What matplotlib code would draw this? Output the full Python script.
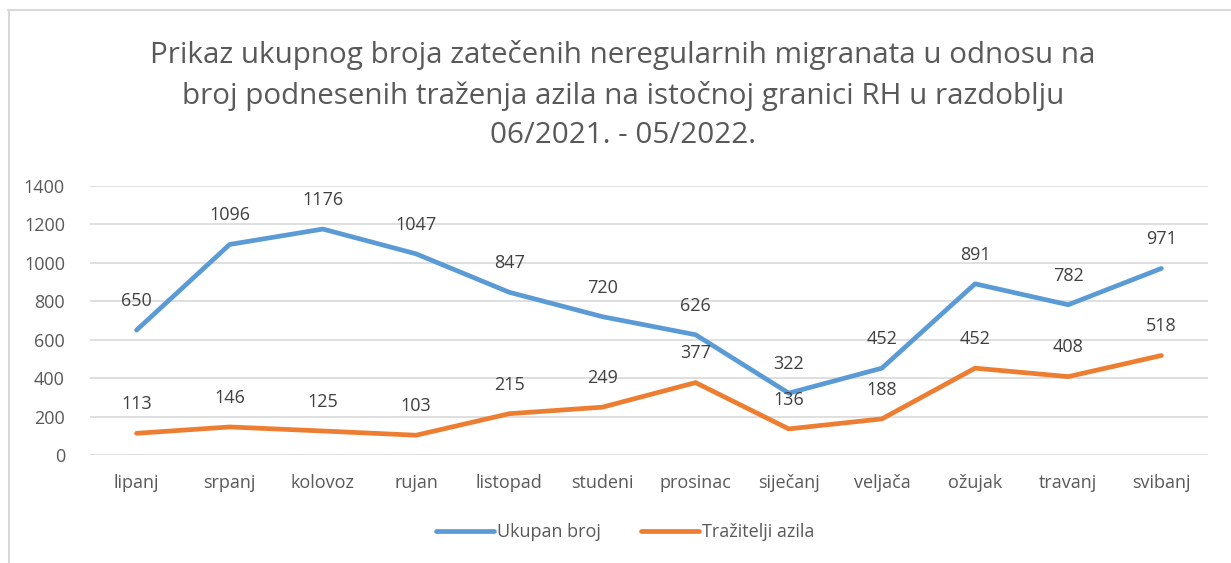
import matplotlib
matplotlib.use('Agg')
from matplotlib import pyplot as plt
from matplotlib.lines import Line2D

plt.rcParams['font.family'] = ['Open Sans', 'DejaVu Sans']

months = ['lipanj', 'srpanj', 'kolovoz', 'rujan', 'listopad', 'studeni', 'prosinac',
          'siječanj', 'veljača', 'ožujak', 'travanj', 'svibanj']
ukupan = [650, 1096, 1176, 1047, 847, 720, 626, 322, 452, 891, 782, 971]
trazitelji = [113, 146, 125, 103, 215, 249, 377, 136, 188, 452, 408, 518]
yticks = [0, 200, 400, 600, 800, 1000, 1200, 1400]

title = ('Prikaz ukupnog broja zatečenih neregularnih migranata u odnosu na\n'
         'broj podnesenih traženja azila na istočnoj granici RH u razdoblju\n'
         '06/2021. - 05/2022.')

text_col = '#595959'
blue = '#5B9BD5'
orange = '#ED7D31'

fig = plt.figure(figsize=(12.31, 5.63), dpi=100)
ax = fig.add_axes([0.0731, 0.1918, 0.9082, 0.4778])

x = list(range(len(months)))
ax.plot(x, ukupan, color=blue, lw=3.4, solid_capstyle='round', solid_joinstyle='round', label='Ukupan broj')
ax.plot(x, trazitelji, color=orange, lw=3.4, solid_capstyle='round', solid_joinstyle='round', label='Tražitelji azila')

for xi, v in zip(x, ukupan):
    ax.annotate(str(v), (xi, v), xytext=(0, 21), textcoords='offset points',
                ha='center', va='center', fontsize=13, color='#404040')
for xi, v in zip(x, trazitelji):
    ax.annotate(str(v), (xi, v), xytext=(0, 21), textcoords='offset points',
                ha='center', va='center', fontsize=13, color='#404040')

ax.set_xlim(-0.5, len(months) - 0.5)
ax.set_ylim(0, 1400)
ax.set_yticks(yticks)
ax.set_xticks(x)
ax.set_xticklabels(months)
ax.tick_params(length=0, labelsize=13, colors=text_col)
ax.tick_params(axis='x', pad=14)
ax.tick_params(axis='y', pad=18)
ax.grid(axis='y', color='#D9D9D9', lw=1.2)
ax.set_axisbelow(True)
for s in ax.spines.values():
    s.set_visible(False)

fig.text(0.506, 0.831, title, ha='center', va='center', fontsize=21.3,
         color=text_col, linespacing=1.48)

leg = fig.legend(loc='center', bbox_to_anchor=(0.508, 0.055), ncol=2, frameon=False,
                 fontsize=13, handlelength=3.2, handletextpad=0.2, columnspacing=2.2)
for t in leg.get_texts():
    t.set_color(text_col)

# outer chart border (top and left edges visible)
fig.add_artist(Line2D([0.0065, 1.0], [0.983, 0.983], color='#D9D9D9', lw=1.5, transform=fig.transFigure))
fig.add_artist(Line2D([0.0072, 0.0072], [0.0, 0.983], color='#D9D9D9', lw=1.5, transform=fig.transFigure))

fig.savefig('out.png', dpi=100)
